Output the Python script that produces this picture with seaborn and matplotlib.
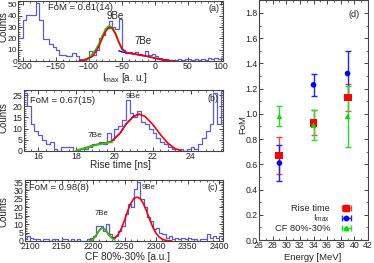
import numpy as np
import matplotlib
matplotlib.use('Agg')
import matplotlib.pyplot as plt
import seaborn as sns
from matplotlib.ticker import MultipleLocator, AutoMinorLocator, FormatStrFormatter

# ---------------- data: (a) I_max histogram ----------------
a_edges = list(range(-210, 110, 5))
a_counts = [20, 20, 36, 41, 41, 41, 51, 36, 19, 19, 15, 12, 10, 5, 5, 4, 4, 7, 4, 2,
            2, 0, 9, 5, 10, 20, 23, 29, 35, 30, 28, 37, 10, 7, 8, 7, 8, 6, 5, 9,
            5, 6, 4, 3, 2, 2, 1, 0, 1, 2, 1, 2, 2, 1, 2, 1, 2, 1, 3, 2, 3, 2, 3]
a_red_x = [-115, -105, -95, -90, -85, -80, -75, -70, -65, -60, -55, -50, -45, -40, -30, -20, -10, 0, 10, 20, 30]
a_red_y = [0, 1, 4, 8, 13, 20, 26, 29.5, 29, 24, 17, 11, 8, 7, 6, 5, 4, 2.5, 1.2, 0.4, 0]
a_grn_x = [-110, -100, -95, -90, -85, -80, -75, -70, -65, -60, -55, -50]
a_grn_y = [0.5, 3, 6, 10, 15, 22, 28, 31, 30, 25, 17, 10]
a_blu_x = [-55, -50, -45, -40, -30, -20, -10, 0, 10, 20, 30]
a_blu_y = [9, 8, 7.5, 7, 6, 5, 3.8, 2.5, 1.2, 0.4, 0]

# ---------------- data: (b) rise time histogram ----------------
b_edges = [round(15.2 + 0.2 * i, 1) for i in range(54)]
b_counts = [26, 20, 12, 9, 7, 5, 3, 4, 1, 0, 2, 2, 2, 0, 0, 1, 1, 2, 3, 3,
            4, 3, 8, 5, 10, 11, 14, 23, 17, 15, 18, 13, 12, 10, 8, 6, 4, 3, 2, 1,
            0, 1, 0, 1, 2, 1, 3, 6, 9, 12, 26, 12, 27]
b_red_x = [18.0, 18.5, 19.0, 19.5, 19.8, 20.0, 20.3, 20.6, 21.0, 21.3, 21.6, 22.0, 22.4, 22.8, 23.2, 23.5]
b_red_y = [0.2, 1.5, 2.8, 3.6, 4.2, 5.5, 8, 12, 15.5, 16.5, 15.5, 12, 7.5, 3.5, 1, 0.2]
b_grn_x = [18.0, 18.5, 19.0, 19.5, 19.9]
b_grn_y = [0.2, 1.3, 2.6, 3.5, 4.0]
b_blu_x = [20.0, 20.3, 20.6, 21.0, 21.3]
b_blu_y = [5.5, 8, 12, 15.5, 16.5]

# ---------------- data: (c) CF 80%-30% histogram ----------------
c_edges = list(range(2090, 2410, 5))
c_counts = [1, 3, 2, 1, 1, 0, 1, 1, 0, 1, 1, 0, 1, 1, 0, 1, 0, 1, 0, 0,
            1, 2, 3, 9, 9, 6, 10, 4, 2, 3, 6, 9, 16, 22, 20, 31, 35, 25, 20, 14,
            12, 7, 8, 5, 4, 2, 3, 1, 2, 1, 2, 1, 2, 1, 1, 0, 1, 1, 4, 2, 3, 2, 3]
c_red_x = [2195, 2200, 2205, 2210, 2215, 2220, 2225, 2230, 2235, 2240, 2245, 2250, 2255, 2260, 2265,
           2270, 2275, 2280, 2285, 2290, 2295, 2300, 2305, 2310, 2315, 2320, 2325]
c_red_y = [0.1, 1, 3.5, 6.5, 8, 6.5, 3.5, 1.8, 2, 4, 7.5, 12.5, 18, 22.5, 25.5,
           26, 25, 22, 17.5, 12.5, 8, 4.5, 2.3, 1, 0.4, 0.1, 0]
c_grn_x = [2195, 2200, 2205, 2210, 2215, 2220, 2225, 2230, 2235]
c_grn_y = [0.1, 1, 3.5, 6.5, 8, 6.5, 3.5, 1.5, 0.5]

# ---------------- data: (d) FoM vs energy ----------------
energy = [29, 34, 39]
fom_rise = [0.67, 0.93, 1.13]
err_rise = [0.15, 0.10, 0.11]
fom_imax = [0.61, 1.23, 1.32]
err_imax = [0.14, 0.09, 0.18]
fom_cf = [0.98, 0.91, 0.98]
err_cf = [0.08, 0.12, 0.24]

sns.set_theme(style='ticks')
plt.rcParams['font.family'] = ['Liberation Sans', 'DejaVu Sans']
plt.rcParams['mathtext.fontset'] = 'custom'
plt.rcParams['mathtext.rm'] = 'Liberation Sans'
plt.rcParams['xtick.direction'] = 'in'
plt.rcParams['ytick.direction'] = 'in'
plt.rcParams['axes.linewidth'] = 0.8

HIST = '#5c5cd0'
RED = '#ff0000'
GRN = '#00e000'
BLU = '#0000ff'

W, H = 374, 263
fig = plt.figure(figsize=(3.74, 2.63), dpi=100)


def px_axes(x0, y0, x1, y1):
    # rectangle given in picture pixels from the top-left corner
    return fig.add_axes([x0 / W, 1 - y1 / H, (x1 - x0) / W, (y1 - y0) / H])


ax_a = px_axes(18, 1, 223, 61)
ax_b = px_axes(24, 90, 223, 151)
ax_c = px_axes(25, 180, 223, 241)
ax_d = px_axes(259, 0, 368, 240)


def draw_hist(ax, edges, counts):
    centers = [(edges[i] + edges[i + 1]) / 2 for i in range(len(counts))]
    sns.histplot(x=centers, weights=counts, bins=edges, element='step', fill=False,
                 color=HIST, linewidth=0.9, ax=ax)


def style_axes(ax, xlim, ylim, xmaj, ymaj, nminor):
    ax.set_xlim(*xlim)
    ax.set_ylim(*ylim)
    ax.xaxis.set_major_locator(MultipleLocator(xmaj))
    ax.yaxis.set_major_locator(MultipleLocator(ymaj))
    ax.xaxis.set_minor_locator(AutoMinorLocator(nminor))
    ax.yaxis.set_minor_locator(AutoMinorLocator(nminor))
    ax.tick_params(which='both', top=True, right=True, labelsize=6.3, pad=1)
    ax.tick_params(which='major', length=3, width=0.6)
    ax.tick_params(which='minor', length=1.5, width=0.5)
    ax.set_xlabel('')
    ax.set_ylabel('')
    for s in ax.spines.values():
        s.set_color('#444444')


# (a)
draw_hist(ax_a, a_edges, a_counts)
sns.lineplot(x=a_blu_x, y=a_blu_y, color=BLU, lw=1.0, ax=ax_a)
sns.lineplot(x=a_grn_x, y=a_grn_y, color=GRN, lw=1.2, ax=ax_a)
sns.lineplot(x=a_red_x, y=a_red_y, color=RED, lw=1.2, ax=ax_a)
style_axes(ax_a, (-207.5, 103), (0, 53), 50, 10, 5)
ax_a.tick_params(axis='y', labelsize=6.0, pad=0.8)
ax_a.text(-162, 47.5, 'FoM = 0.61(14)', fontsize=6.8, va='center')
ax_a.text(-60, 40, '9Be', fontsize=7, ha='center', va='center')
ax_a.text(-18, 18, '7Be', fontsize=7, ha='center', va='center')
ax_a.text(97, 46.5, '(a)', fontsize=6.5, ha='right', va='center')

# (b)
draw_hist(ax_b, b_edges, b_counts)
sns.lineplot(x=b_blu_x, y=b_blu_y, color=BLU, lw=1.0, ax=ax_b)
sns.lineplot(x=b_red_x, y=b_red_y, color=RED, lw=1.2, ax=ax_b)
sns.lineplot(x=b_grn_x, y=b_grn_y, color=GRN, lw=1.2, ax=ax_b)
style_axes(ax_b, (15.25, 25.7), (0, 27.3), 2, 5, 5)
ax_b.text(15.55, 22.5, 'FoM = 0.67(15)', fontsize=6.8, va='center')
ax_b.text(21.0, 24.5, '9Be', fontsize=6, ha='center', va='center')
ax_b.text(19.0, 7.0, '7Be', fontsize=6, ha='center', va='center')
ax_b.text(25.45, 23.5, '(b)', fontsize=6.5, ha='right', va='center')

# (c)
draw_hist(ax_c, c_edges, c_counts)
sns.lineplot(x=c_red_x, y=c_red_y, color=RED, lw=1.2, ax=ax_c)
sns.lineplot(x=c_grn_x, y=c_grn_y, color=GRN, lw=1.0, ax=ax_c)
style_axes(ax_c, (2092, 2406), (0, 36.2), 50, 5, 5)
ax_c.text(2099, 31.5, 'FoM = 0.98(8)', fontsize=6.8, va='center')
ax_c.text(2288, 31.5, '9Be', fontsize=5.6, ha='center', va='center')
ax_c.text(2213, 16.5, '7Be', fontsize=5.6, ha='center', va='center')
ax_c.text(2398, 31.5, '(c)', fontsize=6.5, ha='right', va='center')

# axis titles of the histogram panels
for yc in (27, 118, 212):
    fig.text(3.5 / W, 1 - yc / H, 'Counts', rotation=90, fontsize=7.0,
             ha='center', va='center')
fig.text(125 / W, 1 - 78 / H, r'I$_{\mathrm{max}}$ [a. u.]', fontsize=7.2, ha='center', va='center')
fig.text(120 / W, 1 - 165 / H, 'Rise time [ns]', fontsize=7.2, ha='center', va='center')
fig.text(127 / W, 1 - 257 / H, 'CF 80%-30% [a.u.]', fontsize=7.2, ha='center', va='center')

# (d)
series = [
    ('Rise time', fom_rise, err_rise, 's', RED, '#ff4040', 4.5),
    (r'I$_{\mathrm{max}}$', fom_imax, err_imax, 'o', BLU, '#2020ff', 3.2),
    ('CF 80%-30%', fom_cf, err_cf, '^', GRN, '#20e020', 3.2),
]
handles = []
for name, vals, errs, mk, col, ecol, ms in series:
    ax_d.errorbar(energy, vals, yerr=errs, fmt='none', ecolor=ecol, elinewidth=1.0,
                  capsize=2, capthick=1.0)
    sns.scatterplot(x=energy, y=vals, marker=mk, color=col, s=ms ** 2 * 1.6,
                    edgecolor='none', ax=ax_d, zorder=3)
    h = ax_d.errorbar([np.nan], [np.nan], xerr=[1], fmt=mk, color=col, ecolor=ecol,
                      ms=ms, elinewidth=1.0, capsize=2, label=name)
    handles.append(h)

style_axes(ax_d, (26, 42), (0, 1.903), 2, 0.2, 2)
ax_d.yaxis.set_major_formatter(FormatStrFormatter('%.1f'))
fig.text(313 / W, 1 - 257 / H, 'Energy [MeV]', fontsize=6.8, ha='center', va='center')
fig.text(243 / W, 1 - 125 / H, 'FoM', rotation=90, fontsize=6.8, ha='center', va='center')
ax_d.text(40.8, 1.79, '(d)', fontsize=6.5, ha='right', va='center')
ax_d.legend(handles=handles, loc='lower right', fontsize=6.7, markerfirst=False,
            frameon=False, handlelength=2.7, handletextpad=0.4, labelspacing=0.0,
            borderaxespad=0.0, bbox_to_anchor=(0.95, 0.012))

fig.savefig('out.png', dpi=100)
